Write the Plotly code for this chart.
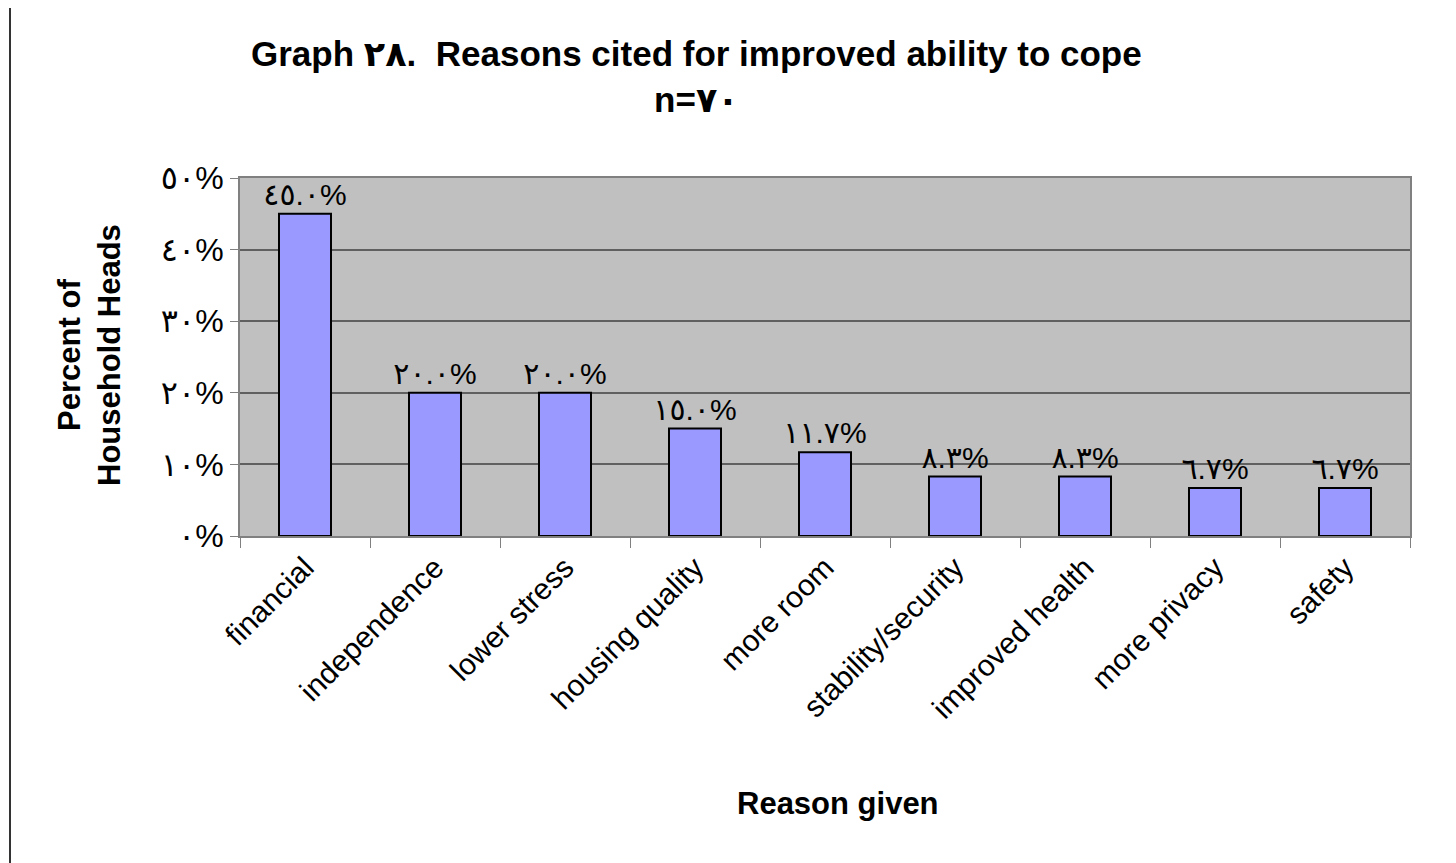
import plotly.graph_objects as go

reasons = [
    "financial",
    "independence",
    "lower stress",
    "housing quality",
    "more room",
    "stability/security",
    "improved health",
    "more privacy",
    "safety",
]
percent = [45.0, 20.0, 20.0, 15.0, 11.7, 8.3, 8.3, 6.7, 6.7]
y_ticks = [0, 10, 20, 30, 40, 50]

AR_DIGITS = str.maketrans("0123456789", "٠١٢٣٤٥٦٧٨٩")


def arabic(s):
    return s.translate(AR_DIGITS)


FONT = "Liberation Sans, Arial, DejaVu Sans, sans-serif"

# the page body adds an 8px margin, so layout is given in figure pixels
W, H = 1456, 863
OFF = 8
L, R, T, B = 240 - OFF, W - (1410 - OFF), 178 - OFF, H - (536 - OFF)
PW, PH = W - L - R, H - T - B

fig = go.Figure()
fig.add_trace(
    go.Bar(
        x=reasons,
        y=percent,
        width=0.4,
        marker=dict(color="#9999FF", line=dict(color="black", width=2)),
        text=[arabic(f"{v:.1f}%") for v in percent],
        textposition="outside",
        constraintext="none",
        cliponaxis=False,
        textfont=dict(family=FONT, size=30, color="black"),
    )
)

fig.update_xaxes(
    showline=True,
    linecolor="#808080",
    linewidth=2,
    mirror=True,
    ticks="outside",
    tickson="boundaries",
    ticklen=10,
    tickcolor="#808080",
    tickangle=-45,
    tickfont=dict(family=FONT, size=30, color="black"),
    showgrid=False,
)
fig.update_yaxes(
    range=[0, 50],
    tickvals=y_ticks,
    ticktext=[arabic(f"{v}%") for v in y_ticks],
    showline=True,
    linecolor="#808080",
    linewidth=2,
    mirror=True,
    ticks="outside",
    ticklen=8,
    tickcolor="#808080",
    tickfont=dict(family=FONT, size=32, color="black"),
    showgrid=True,
    gridcolor="#606060",
    gridwidth=1.5,
    zeroline=False,
)


def px(x):
    # screen x (reference) -> paper
    return (x - OFF - L) / PW


def py(y):
    # screen y (reference) -> paper
    return (H - B - (y - OFF)) / PH


def label(text, x, y, size, angle=0):
    return dict(
        text=text,
        xref="paper",
        yref="paper",
        x=px(x),
        y=py(y),
        xanchor="center",
        yanchor="middle",
        textangle=angle,
        showarrow=False,
        font=dict(family=FONT, size=size, color="black", weight="bold"),
    )


fig.update_layout(
    width=W,
    height=H,
    margin=dict(l=L, r=R, t=T, b=B, autoexpand=False),
    paper_bgcolor="white",
    plot_bgcolor="#C0C0C0",
    showlegend=False,
    bargap=0.6,
    annotations=[
        label(arabic("Graph 28.  Reasons cited for improved ability to cope<br>n=70"),
              696, 77, 35),
        label("Reason given", 838, 803, 31),
        label("Percent of<br>Household Heads", 89, 355, 31, angle=-90),
    ],
    shapes=[
        dict(type="rect", xref="paper", yref="paper",
             x0=px(10), x1=px(W + 20), y0=py(H + 20), y1=py(5),
             line=dict(color="#333333", width=2), layer="above"),
    ],
)

fig.write_html("out.html")
